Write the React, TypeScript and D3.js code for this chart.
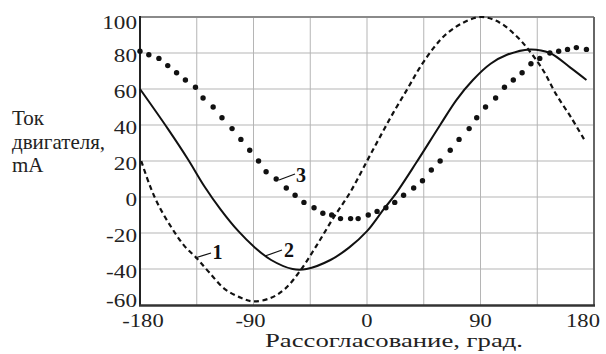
import React from "react";
import * as d3 from "d3";

// curve 1 (dashed)
const degs1 = [-179, -172, -165, -155, -145, -135, -125, -113, -100, -90, -76, -65, -53, -40, -27, -13, 0, 10, 21, 32, 42, 53, 62, 74, 90, 105, 119, 129, 140, 150, 162, 173];
const vals1 = [20, 6, -5, -17, -27, -34, -42, -51, -56, -58, -56, -51, -41, -27, -12, 3, 20, 33, 47, 60, 72, 83, 90, 96, 100, 97, 89, 81, 70, 57, 44, 31];

// curve 2 (solid)
const degs2 = [-180, -158, -142, -129, -116, -102, -89, -76, -59, -48, -29, -14, 0, 13, 22, 39, 58, 71, 84, 98, 111, 129, 145, 161, 174];
const vals2 = [60, 38, 21, 6, -7, -19, -28, -35, -40, -40, -35, -28, -19, -7, 1, 19, 40, 54, 65, 74, 79, 82, 80, 72, 65];

// curve 3 (dots)
const degs3 = [-180, -173, -165, -158, -151, -144, -136, -130, -122, -115, -107, -100, -93, -86, -80, -72, -64, -57, -50, -42, -35, -28, -21, -13, -7, 1, 8, 15, 22, 29, 37, 44, 51, 58, 66, 73, 81, 87, 94, 102, 109, 116, 123, 130, 137, 145, 152, 159, 166, 174];
const vals3 = [81, 79, 77, 73, 69, 65, 61, 55, 50, 44, 38, 32, 26, 20, 14, 10, 5, 1, -3, -6, -9, -10, -12, -12, -12, -10, -8, -6, -3, 1, 5, 9, 15, 20, 26, 32, 38, 44, 50, 55, 61, 65, 69, 74, 77, 80, 81, 82, 83, 82];

const xTicks = [-180, -90, 0, 90, 180];
const xGrid = [-135, -90, -45, 0, 45, 90, 135];
const yTicks = [100, 80, 60, 40, 20, 0, -20, -40, -60];
const yLabel = ["Ток", "двигателя,", "mA"];
const xTitle = "Рассогласование, град.";

const W = 606, H = 354;
const serif = "'Times New Roman', 'Liberation Serif', 'DejaVu Serif', serif";

export default function App() {
  const x = d3.scaleLinear().domain([-180, 180]).range([140, 594]);
  const y = d3.scaleLinear().domain([-60, 100]).range([305, 17]);

  const line = d3.line<[number, number]>()
    .x(d => x(d[0]))
    .y(d => y(d[1]))
    .curve(d3.curveCatmullRom);

  const pts1 = degs1.map((d, i) => [d, vals1[i]] as [number, number]);
  const pts2 = degs2.map((d, i) => [d, vals2[i]] as [number, number]);

  const xShift = (t: number) => (t === -180 ? 3 : t === 180 ? -11 : t < 0 ? -3 : 0);
  const txt = { fontFamily: serif };

  return (
    <svg width={W} height={H} style={{ position: "absolute", left: 0, top: 0, background: "#fff" }}>
      {/* grid */}
      {xGrid.map(g => (
        <line key={"gx" + g} x1={x(g)} x2={x(g)} y1={y(100)} y2={y(-60)} stroke="#b5b5b5" strokeWidth={1} />
      ))}
      {yTicks.slice(1, -1).map(g => (
        <line key={"gy" + g} x1={x(-180)} x2={x(180)} y1={y(g)} y2={y(g)} stroke="#b5b5b5" strokeWidth={1} />
      ))}

      {/* frame */}
      <line x1={x(-180)} x2={x(180)} y1={y(100)} y2={y(100)} stroke="#8a8a8a" strokeWidth={2} />
      <line x1={x(180)} x2={x(180)} y1={y(100)} y2={y(-60)} stroke="#666" strokeWidth={2} />
      <line x1={x(-180)} x2={x(-180)} y1={y(100) - 1} y2={y(-60)} stroke="#222" strokeWidth={2} />
      <line x1={x(-180) - 1} x2={x(180) + 1} y1={y(-60) + 0.5} y2={y(-60) + 0.5} stroke="#333" strokeWidth={2.5} />

      {/* curves */}
      <path d={line(pts1) || ""} fill="none" stroke="#111" strokeWidth={2.2} strokeDasharray="5,3.5" />
      <path d={line(pts2) || ""} fill="none" stroke="#111" strokeWidth={2} />
      {degs3.map((d, i) => (
        <circle key={"d" + i} cx={x(d)} cy={y(vals3[i])} r={2.7} fill="#111" />
      ))}

      {/* curve labels */}
      <line x1={195} y1={258} x2={211} y2={253} stroke="#111" strokeWidth={1.3} />
      <text x={212.5} y={258.5} fontSize={20} fontWeight="bold" fill="#111" style={txt}>1</text>
      <line x1={265} y1={256} x2={282} y2={250} stroke="#111" strokeWidth={1.3} />
      <text x={284} y={257} fontSize={20} fontWeight="bold" fill="#111" style={txt}>2</text>
      <line x1={279} y1={180} x2={295} y2={174} stroke="#111" strokeWidth={1.3} />
      <text x={296} y={181.5} fontSize={20} fontWeight="bold" fill="#111" style={txt}>3</text>

      {/* y ticks */}
      {yTicks.map(t => {
        const by = Math.min(Math.max(y(t) + 9, 29), 307);
        return (
          <text key={"yt" + t} transform={`translate(137,${by}) scale(1.22,1)`} textAnchor="end" fontSize={19} fill="#222" style={txt}>
            {t}
          </text>
        );
      })}

      {/* x ticks */}
      {xTicks.map(t => (
        <text key={"xt" + t} transform={`translate(${x(t) + xShift(t)},326.5) scale(1.22,1)`} textAnchor="middle" fontSize={18.5} fill="#222" style={txt}>
          {t}
        </text>
      ))}

      {/* axis titles */}
      <text x={265} y={347} fontSize={18} fill="#222" textLength={258} lengthAdjust="spacingAndGlyphs" style={txt}>{xTitle}</text>
      {yLabel.map((s, i) => (
        <text key={"yl" + i} x={12} y={125 + i * 23.5} fontSize={21} fill="#222" style={txt}>{s}</text>
      ))}
    </svg>
  );
}
